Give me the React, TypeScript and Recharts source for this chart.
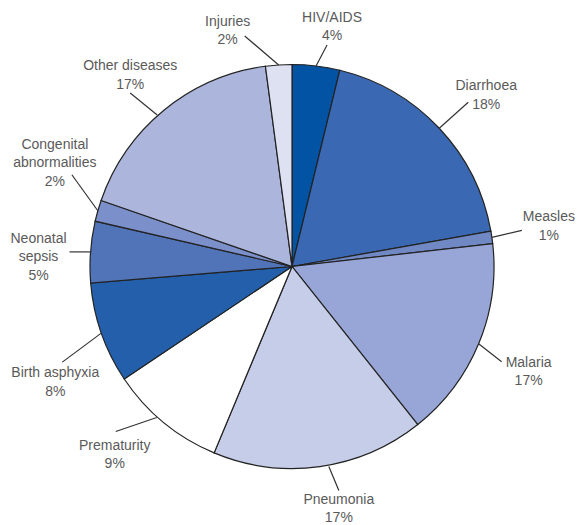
import React from 'react';
import { PieChart, Pie, Cell } from 'recharts';

// causes of death, clockwise from 12 o'clock
const categories = [
  'HIV/AIDS',
  'Diarrhoea',
  'Measles',
  'Malaria',
  'Pneumonia',
  'Prematurity',
  'Birth asphyxia',
  'Neonatal sepsis',
  'Congenital abnormalities',
  'Other diseases',
  'Injuries',
];

// slice sizes (share of deaths, %)
const shares = [3.8, 18.4, 1.0, 16.1, 17.0, 9.3, 8.1, 4.9, 1.7, 17.6, 2.1];

// printed labels
const labelLines = [
  ['HIV/AIDS'],
  ['Diarrhoea'],
  ['Measles'],
  ['Malaria'],
  ['Pneumonia'],
  ['Prematurity'],
  ['Birth asphyxia'],
  ['Neonatal', 'sepsis'],
  ['Congenital', 'abnormalities'],
  ['Other diseases'],
  ['Injuries'],
];
const percentLabels = ['4%', '18%', '1%', '17%', '17%', '9%', '8%', '5%', '2%', '17%', '2%'];

const COLORS = [
  '#0353a4',
  '#3a68b2',
  '#7088c4',
  '#97a6d6',
  '#c6cde8',
  '#ffffff',
  '#245fab',
  '#5173b8',
  '#7b8fca',
  '#acb6dc',
  '#dde1f1',
];

// leader line start shift, end and text position, relative to the slice's outer edge
const LABEL_LAYOUT: { start?: [number, number]; line: [number, number]; text: [number, number] }[] = [
  { line: [11, -21], text: [16, -49] },
  { line: [29, -26], text: [47, -43] },
  { line: [30, -7], text: [57, -21] },
  { line: [23, 18], text: [50, 18] },
  { start: [9, 0], line: [19, 24], text: [19, 32] },
  { start: [-7, -5], line: [-48, 9], text: [-49, 22] },
  { line: [-39, 29], text: [-46, 39] },
  { line: [-21, 0], text: [-52, -14] },
  { line: [-26, -36], text: [-43, -67] },
  { start: [-7, 5], line: [-34, -17], text: [-34, -45] },
  { line: [-34, -29], text: [-51, -44] },
];

const RAD = Math.PI / 180;
const LINE_GAP = 18.5;

const data = categories.map((name, i) => ({ name, value: shares[i] }));

const renderLabel = (props: any) => {
  const { cx, cy, midAngle, outerRadius, index } = props;
  const ex = cx + outerRadius * Math.cos(-midAngle * RAD);
  const ey = cy + outerRadius * Math.sin(-midAngle * RAD);
  const layout = LABEL_LAYOUT[index];
  const start = layout.start || [0, 0];
  const rows = [...labelLines[index], percentLabels[index]];
  const tx = ex + layout.text[0];
  const ty = ey + layout.text[1];
  return (
    <g key={`label-${index}`}>
      <line
        x1={ex + start[0]}
        y1={ey + start[1]}
        x2={ex + layout.line[0]}
        y2={ey + layout.line[1]}
        stroke="#333"
        strokeWidth={1.2}
      />
      <text
        x={tx}
        y={ty}
        textAnchor="middle"
        dominantBaseline="central"
        fill="#5a5a5a"
        fontSize={14}
        fontFamily="'Liberation Sans', Arial, sans-serif"
      >
        {rows.map((r, k) => (
          <tspan key={k} x={tx} y={ty + k * LINE_GAP}>
            {r}
          </tspan>
        ))}
      </text>
    </g>
  );
};

export default function App() {
  return (
    <div style={{ position: 'absolute', left: 0, top: 0, width: 578, height: 525, background: '#fff' }}>
      <PieChart width={578} height={525} margin={{ top: 0, right: 0, bottom: 0, left: 0 }}>
        <Pie
          data={data}
          dataKey="value"
          nameKey="name"
          cx={292}
          cy={266.5}
          outerRadius={202}
          startAngle={90}
          endAngle={-270}
          stroke="#222"
          strokeWidth={1.2}
          labelLine={false}
          label={renderLabel}
          isAnimationActive={false}
        >
          {data.map((entry, index) => (
            <Cell key={`cell-${index}`} fill={COLORS[index]} />
          ))}
        </Pie>
      </PieChart>
    </div>
  );
}
